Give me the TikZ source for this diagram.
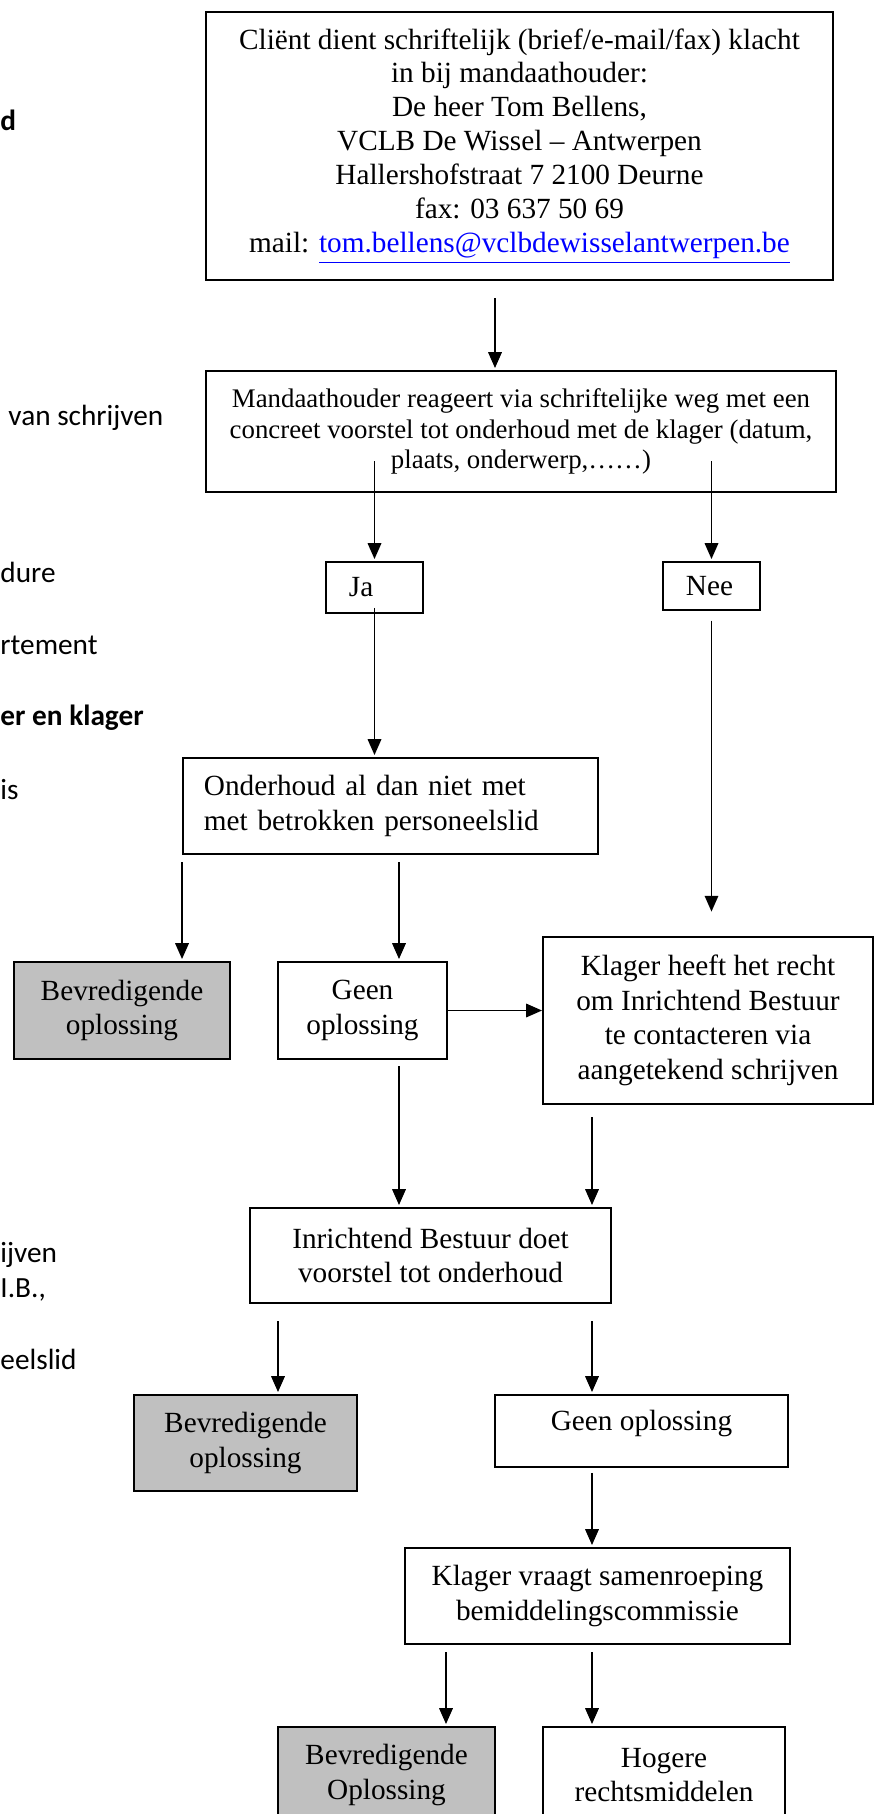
\documentclass[tikz,border=0pt]{standalone}
\usepackage{fontspec}
\setmainfont{Liberation Serif}
\newfontfamily\calibri{Carlito}
\usetikzlibrary{arrows.meta}
\definecolor{okgray}{HTML}{C0C0C0}
\definecolor{linkblue}{RGB}{0,0,255}
\tikzset{
  box/.style={draw,line width=0.8pt,align=center,inner sep=2pt},
  wh/.style 2 args={minimum width=#1*0.41pt,minimum height=#2*0.41pt},
  okbox/.style={box,fill=okgray},
  yesno/.style={box,align=left,inner xsep=9.4pt,text width=21pt},
  flow/.style={-{Triangle[length=6.5pt,width=5.5pt]},line width=0.8pt,shorten <=3pt,shorten >=0.8pt},
  margin/.style={font=\calibri\fontsize{12}{14}\selectfont,anchor=west,inner sep=0pt,text height=8pt,text depth=2pt}
}

\begin{document}
\begin{tikzpicture}[x=0.41pt,y=-0.41pt,font=\fontsize{12}{14.2}\selectfont]
\clip (0,0) rectangle (877,1814);
% columns of the arrows that do not sit on a box centre
\foreach \n/\x in {cmid/495,cgeen/399,cright/592,cleft/278,cbev/446}
  \coordinate (\n) at (\x,0);
% cut-off text of the page behind the chart
\foreach \x/\y/\t [count=\i] in {0/123/{\bfseries d},8/418/{van schrijven},0/575/{dure},0/647/{rtement},
    0/718/{\bfseries er en klager},0/792/{is},0/1255/{ijven},0/1290/{I.B.,},0/1362/{eelslid}}
  \node[margin] (frag\i) at (\x,\y) {\t};
% complaint and first answer
\node[box,wh={627}{268},font=\fontsize{12}{13.9}\selectfont] (klacht) at (519.5,146)
  {Cliënt dient schriftelijk (brief/e-mail/fax) klacht\\in bij mandaathouder:\\De heer Tom Bellens,\\
   VCLB De Wissel – Antwerpen\\Hallershofstraat 7 2100 Deurne\\fax: 03 637 50 69\\
   mail: \textcolor{linkblue}{\underline{tom.bellens@vclbdewisselantwerpen.be}}};
\node[box,wh={630}{121},font=\fontsize{11}{12.6}\selectfont] (mandaat) at (521,431.5)
  {Mandaathouder reageert via schriftelijke weg met een\\concreet voorstel tot onderhoud met de klager (datum,\\plaats, onderwerp,……)};
\node[yesno,wh={97}{51}] (ja) at (374.5,587.5) {Ja};
\node[yesno,wh={97}{48}] (nee) at (711.5,586) {Nee};
% talk with the staff member
\node[box,wh={415}{96},align=left,text width=153pt,inner xsep=8.4pt] (onderhoud) at (390.5,806)
  {Onderhoud al dan niet met\\met betrokken personeelslid};
\node[okbox,wh={216}{97}] (bevr1) at (122,1010.5) {Bevredigende\\oplossing};
\node[box,wh={169}{97}] (geen1) at (362.5,1010.5) {Geen\\oplossing};
\node[box,wh={330}{167}] (recht) at (708,1020.5)
  {Klager heeft het recht\\om Inrichtend Bestuur\\te contacteren via\\aangetekend schrijven};
% school board
\node[box,wh={361}{95}] (bestuur) at (430.5,1255.5) {Inrichtend Bestuur doet\\voorstel tot onderhoud};
\node[okbox,wh={223}{96}] (bevr2) at (245.5,1443) {Bevredigende\\oplossing};
\node[box,wh={293}{72},text depth=9pt] (geen2) at (641.5,1431) {Geen oplossing};
% mediation
\node[box,wh={385}{96}] (commissie) at (597.5,1596) {Klager vraagt samenroeping\\bemiddelingscommissie};
\node[okbox,wh={217}{96}] (bevr3) at (386.5,1775) {Bevredigende\\Oplossing};
\node[box,wh={242}{96}] (hoger) at (664,1775) {Hogere\\rechtsmiddelen};
% arrows
\draw[flow,shorten <=7pt] (klacht.south -| cmid) -- (mandaat.north -| cmid);
\draw[flow,shorten <=-13pt] (mandaat.south -| ja) -- (ja.north);
\draw[flow,shorten <=-13pt] (mandaat.south -| nee) -- (nee.north);
\draw[flow,shorten <=-2.5pt] (ja.south) -- (onderhoud.north -| ja);
\draw[flow,shorten <=4pt,shorten >=10pt] (nee.south) -- (recht.north -| nee);
\draw[flow] (onderhoud.south west) -- (bevr1.north -| onderhoud.south west);
\draw[flow] (onderhoud.south -| cgeen) -- (geen1.north -| cgeen);
\draw[flow,shorten <=0pt,shorten >=0pt] (geen1.east) -- (recht.west |- geen1.east);
\draw[flow,shorten <=2.5pt] (geen1.south -| cgeen) -- (bestuur.north -| cgeen);
\draw[flow,shorten <=5pt] (recht.south -| cright) -- (bestuur.north -| cright);
\draw[flow,shorten <=7pt] (bestuur.south -| cleft) -- (bevr2.north -| cleft);
\draw[flow,shorten <=7pt] (bestuur.south -| cright) -- (geen2.north -| cright);
\draw[flow,shorten <=2pt] (geen2.south -| cright) -- (commissie.north -| cright);
\draw[flow] (commissie.south -| cbev) -- (bevr3.north -| cbev);
\draw[flow] (commissie.south -| cright) -- (hoger.north -| cright);
\end{tikzpicture}
\end{document}
